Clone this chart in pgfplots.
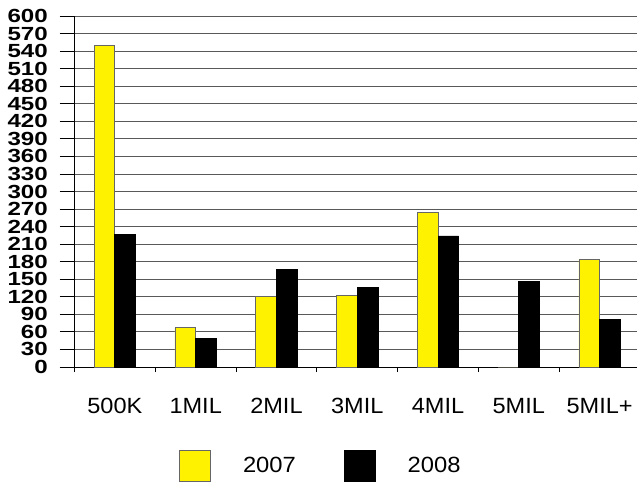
\documentclass[border=0pt]{standalone}
\usepackage{fontspec}
\setmainfont{Liberation Sans}
\usepackage{pgfplots}
\pgfplotsset{compat=1.18}
\pgfplotsset{ybar legend/.style={legend image code/.code={\draw[#1] (0pt,-15.5pt) rectangle (31pt,15.5pt);}}}
\begin{document}
\begin{tikzpicture}
\begin{axis}[
    at={(74.5pt,115pt)}, anchor=south west,
    scale only axis, width=565.5pt, height=351pt,
    ybar=0pt, bar width=20.7pt,
    xmin=-0.5, xmax=6.5, ymin=0, ymax=600,
    axis x line=bottom, axis y line=left,
    axis line style={-, black, line width=1pt},
    ytick={0,30,...,600},
    ymajorgrids, grid style={black!65, line width=0.9pt},
    xtick={-0.5,0.5,...,6.5},
    xticklabels={500K,1MIL,2MIL,3MIL,4MIL,5MIL,5MIL+},
    x tick label as interval,
    tick align=outside,
    major tick length=15pt,
    xtick style={/pgfplots/major tick length=5pt, black, line width=0.8pt},
    ytick style={black, line width=0.9pt},
    /pgf/number format/assume math mode=true,
    yticklabel style={font=\fontsize{19}{19}\selectfont\bfseries, xscale=1.27, inner sep=0pt, anchor=east, xshift=-9pt},
    xticklabel style={font=\fontsize{22}{22}\selectfont, xscale=1.07, inner sep=0pt, anchor=north, yshift=-16pt},
    legend columns=2,
    legend style={at={(rel axis cs:0.1848,-0.282)}, anchor=west, draw=none, fill=none,
        inner sep=0pt, font=\fontsize{22}{22}\selectfont,
        nodes={inner sep=0pt, xscale=1.08},
        /tikz/every odd column/.append style={column sep=32pt},
        /tikz/every even column/.append style={column sep=48pt}},
]
\addplot[fill=yellow, draw=black!60, line width=0.8pt] coordinates {
    (0,550) (1,67) (2,120) (3,123) (4,264) (5,0) (6,184)
};
\addplot[fill=black, draw=black, line width=0.8pt] coordinates {
    (0,227) (1,49) (2,166) (3,136) (4,224) (5,147) (6,82)
};
\legend{2007,2008}
\end{axis}
\pgfresetboundingbox
\path[use as bounding box] (0pt,0pt) rectangle (637pt,482pt);
\end{tikzpicture}
\end{document}
